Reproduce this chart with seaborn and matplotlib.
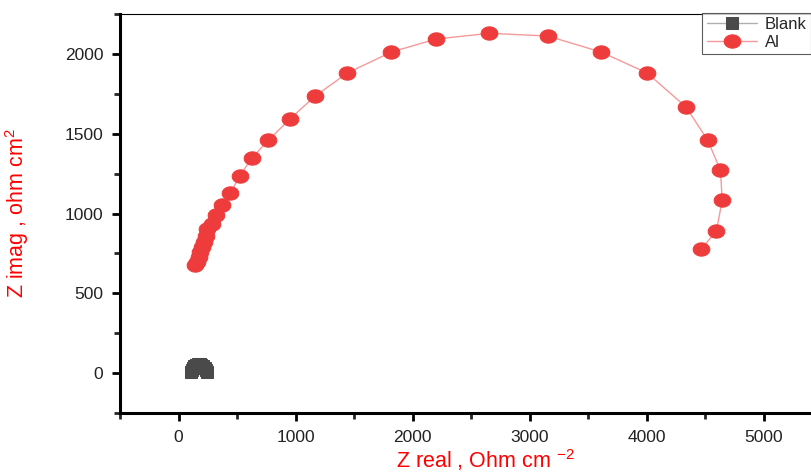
import numpy as np
import pandas as pd
import matplotlib
matplotlib.use("Agg")
import matplotlib.pyplot as plt
from matplotlib.path import Path
from matplotlib.ticker import MultipleLocator
import seaborn as sns

# Nyquist data
al_zreal = [145, 160, 174, 188, 203, 216, 231, 245, 288, 319, 376, 444, 524, 630,
            767, 957, 1165, 1442, 1818, 2199, 2658, 3156, 3615, 4006, 4338, 4524,
            4632, 4647, 4598, 4470]
al_zimag = [675, 698, 729, 760, 791, 822, 862, 903, 935, 991, 1055, 1128, 1236, 1350,
            1458, 1595, 1734, 1880, 2011, 2093, 2129, 2112, 2011, 1880, 1667, 1458,
            1271, 1084, 891, 779]
blank_zreal = [105, 112, 122, 135, 150, 165, 180, 195, 210, 225, 238, 246]
blank_zimag = [5, 20, 34, 45, 52, 55, 55, 52, 45, 34, 20, 5]

df_al = pd.DataFrame({"zr": al_zreal, "zi": al_zimag})
df_blank = pd.DataFrame({"zr": blank_zreal, "zi": blank_zimag})

sns.set_style("white")
plt.rcParams["font.family"] = ["Liberation Sans", "DejaVu Sans"]
plt.rcParams["mathtext.default"] = "regular"

# slightly wide ellipse marker (the source image is stretched horizontally)
t = np.linspace(0, 2 * np.pi, 40)
ellipse = Path(np.column_stack([1.25 * np.cos(t), np.sin(t)]), closed=True)

fig = plt.figure(figsize=(8.11, 4.75), dpi=100)
ax = fig.add_axes([120 / 811, 62 / 475, 702 / 811, 399 / 475])

sns.lineplot(data=df_blank, x="zr", y="zi", sort=False, estimator=None, ax=ax,
             color="#b0b0b0", lw=1, marker="s", markersize=9,
             markerfacecolor="#4a4a4a", markeredgecolor="#4a4a4a", label="Blank")
sns.lineplot(data=df_al, x="zr", y="zi", sort=False, estimator=None, ax=ax,
             color="#f59a9a", lw=1, marker=ellipse, markersize=12,
             markerfacecolor="#ee3b3b", markeredgecolor="#ee3b3b", label="Al")

ax.set_xlim(-500, 5500)
ax.set_ylim(-250, 2250)
ax.xaxis.set_major_locator(MultipleLocator(1000))
ax.xaxis.set_minor_locator(MultipleLocator(500))
ax.yaxis.set_major_locator(MultipleLocator(500))
ax.yaxis.set_minor_locator(MultipleLocator(250))
ax.tick_params(which="major", direction="out", length=6, width=2, labelsize=12.5,
               pad=6, bottom=True, left=True, top=False, right=False, colors="black")
ax.tick_params(which="minor", direction="out", length=4, width=2,
               bottom=True, left=True, top=False, right=False)
for lbl in ax.get_xticklabels() + ax.get_yticklabels():
    lbl.set_color("#222222")

for side in ["left", "bottom"]:
    ax.spines[side].set_linewidth(2.2)
    ax.spines[side].set_color("black")
ax.spines["top"].set_linewidth(0.8)
ax.spines["top"].set_color("black")
ax.spines["right"].set_visible(False)

ax.set_xlabel("Z real , Ohm cm $^{-2}$", color="red", fontsize=15.5)
ax.set_ylabel("Z imag , ohm cm$^{2}$", color="red", fontsize=15.5)
ax.xaxis.set_label_coords(0.52, -0.085)
ax.yaxis.set_label_coords(-0.127, 0.5)

leg = ax.legend(loc="upper right", bbox_to_anchor=(1.0, 1 - 13 / 475),
                bbox_transform=fig.transFigure, fontsize=12,
                frameon=True, fancybox=False, edgecolor="#333333",
                handlelength=3.0, borderpad=0.25, labelspacing=0.15,
                handletextpad=0.5, borderaxespad=0.0)
leg.get_frame().set_linewidth(0.8)
ax.grid(False)

fig.savefig("out.png", dpi=100)
